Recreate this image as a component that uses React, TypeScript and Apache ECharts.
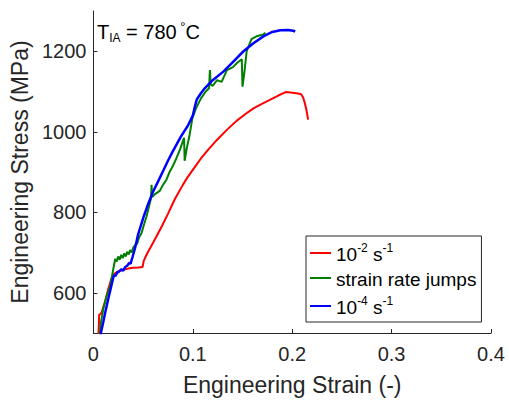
import React, { useEffect, useRef } from "react";
import * as echarts from "echarts";

const xTicks = [0, 0.1, 0.2, 0.3, 0.4];
const yTicks = [600, 800, 1000, 1200];

const seriesNames = ["10-2 s-1", "strain rate jumps", "10-4 s-1"];
const seriesColors = ["#ff0000", "#008000", "#0000ff"];

const redData = [
  [0.005, 495], [0.0055, 520], [0.0058, 545], [0.007, 547], [0.0085, 552], [0.01, 565],
  [0.012, 580], [0.015, 610], [0.0185, 638], [0.021, 647], [0.024, 652], [0.03, 657],
  [0.035, 660], [0.04, 662], [0.045, 663], [0.0495, 664], [0.0505, 678], [0.053, 692],
  [0.055, 702], [0.058, 715], [0.063, 738], [0.069, 766], [0.075, 796], [0.082, 833],
  [0.09, 868], [0.095, 888], [0.102, 912], [0.108, 933], [0.116, 957], [0.124, 979],
  [0.134, 1004], [0.144, 1027], [0.153, 1044], [0.161, 1058], [0.17, 1070], [0.178, 1080],
  [0.186, 1090], [0.194, 1099], [0.2, 1097], [0.206, 1095], [0.209, 1093], [0.211, 1085],
  [0.2126, 1072], [0.2145, 1052], [0.216, 1030],
];

const greenData = [
  [0.006, 490], [0.0075, 525], [0.01, 560], [0.013, 590], [0.0169, 617], [0.019, 645],
  [0.021, 672], [0.022, 684], [0.0235, 678], [0.025, 690], [0.0265, 682], [0.028, 694],
  [0.0295, 686], [0.031, 698], [0.0325, 690], [0.034, 702], [0.0355, 695], [0.037, 706],
  [0.0385, 700], [0.04, 712], [0.042, 718], [0.044, 722], [0.046, 738], [0.0484, 748],
  [0.051, 770], [0.0535, 790], [0.056, 815], [0.058, 835], [0.0585, 868], [0.0592, 838],
  [0.062, 845], [0.0667, 853], [0.07, 868], [0.0733, 880], [0.0766, 900], [0.08, 915],
  [0.0833, 933], [0.087, 955], [0.0912, 985], [0.0918, 928], [0.094, 960], [0.0965, 988],
  [0.0995, 1033], [0.1032, 1058], [0.1082, 1083], [0.113, 1100], [0.1164, 1108],
  [0.1172, 1153], [0.118, 1118], [0.12, 1114], [0.1244, 1128], [0.129, 1124], [0.1343, 1153],
  [0.14, 1160], [0.145, 1172], [0.1493, 1180], [0.15, 1112], [0.152, 1150], [0.1542, 1200],
  [0.159, 1230], [0.165, 1238], [0.1711, 1242], [0.173, 1246],
];

const blueData = [
  [0.0065, 480], [0.0077, 502], [0.01, 528], [0.012, 552], [0.015, 585], [0.0185, 622],
  [0.02, 638], [0.021, 644], [0.022, 641], [0.024, 650], [0.026, 653], [0.028, 658],
  [0.03, 655], [0.032, 664], [0.034, 667], [0.036, 674], [0.0375, 672], [0.0385, 682],
  [0.0395, 690], [0.042, 712], [0.045, 745], [0.05, 785], [0.055, 820], [0.06, 851],
  [0.065, 876], [0.07, 902], [0.075, 928], [0.08, 952], [0.088, 988], [0.095, 1015],
  [0.1, 1040], [0.102, 1062], [0.104, 1080], [0.108, 1095], [0.112, 1108], [0.12, 1128],
  [0.131, 1150], [0.141, 1175], [0.151, 1200], [0.161, 1220], [0.171, 1237], [0.18, 1248],
  [0.188, 1252], [0.196, 1253], [0.201, 1251], [0.203, 1249],
];

const FONT = "'Liberation Sans', Arial, Helvetica, sans-serif";
const AX = "#262626";

export default function App() {
  const ref = useRef<HTMLDivElement>(null);
  useEffect(() => {
    if (!ref.current) return;
    const chart = echarts.init(ref.current, null, { renderer: "svg" });
    const datas = [redData, greenData, blueData];
    const legendText: Record<string, string> = {
      "10-2 s-1": "{b|10}{sup|-2}{b| s}{sup|-1}",
      "strain rate jumps": "{b|strain rate jumps}",
      "10-4 s-1": "{b|10}{sup|-4}{b| s}{sup|-1}",
    };
    chart.setOption({
      animation: false,
      backgroundColor: "#ffffff",
      grid: { left: 88, right: 18, top: 11, bottom: 72, containLabel: false },
      xAxis: {
        type: "value",
        min: 0,
        max: 0.4,
        interval: 0.1,
        name: "Engineering Strain (-)",
        nameLocation: "middle",
        nameGap: 40,
        nameTextStyle: { fontFamily: FONT, fontSize: 23, color: AX },
        axisLine: { show: true, lineStyle: { color: AX, width: 1 } },
        axisTick: { show: true, inside: true, length: 4, customValues: xTicks, lineStyle: { color: AX } },
        axisLabel: {
          customValues: xTicks,
          formatter: (v: number) => String(Math.round(v * 10) / 10),
          fontFamily: FONT, fontSize: 20, color: AX, margin: 11,
        },
        splitLine: { show: false },
      },
      yAxis: {
        type: "value",
        min: 500,
        max: 1300,
        name: "Engineering Stress (MPa)",
        nameLocation: "middle",
        nameGap: 60,
        nameTextStyle: { fontFamily: FONT, fontSize: 23, color: AX },
        axisLine: { show: true, lineStyle: { color: AX, width: 1 } },
        axisTick: { show: true, inside: true, length: 4, customValues: yTicks, lineStyle: { color: AX } },
        axisLabel: {
          customValues: yTicks,
          formatter: (v: number) => String(v),
          fontFamily: FONT, fontSize: 20, color: AX, margin: 7,
        },
        splitLine: { show: false },
      },
      legend: {
        orient: "vertical",
        left: 306,
        top: 236,
        data: seriesNames,
        icon: "rect",
        itemWidth: 21,
        itemHeight: 2,
        itemGap: 6,
        padding: [6, 5, 5, 4],
        borderColor: AX,
        borderWidth: 1,
        backgroundColor: "#ffffff",
        formatter: (name: string) => legendText[name] || name,
        textStyle: {
          fontFamily: FONT,
          fontSize: 19,
          color: "#000",
          rich: {
            b: { fontFamily: FONT, fontSize: 19, lineHeight: 22, verticalAlign: "bottom", color: "#000" },
            sup: { fontFamily: FONT, fontSize: 12, lineHeight: 12, verticalAlign: "top", color: "#000" },
          },
        },
      },
      graphic: [
        {
          type: "text",
          left: 97,
          top: 20,
          style: {
            text: "{b|T}{sub|IA}{b| = 780}{sup| °}{b|C}",
            font: `20px ${FONT}`,
            fill: "#000",
            rich: {
              b: { fontFamily: FONT, fontSize: 20, lineHeight: 24, verticalAlign: "middle", fill: "#000" },
              sub: { fontFamily: FONT, fontSize: 12, lineHeight: 16, verticalAlign: "bottom", fill: "#000" },
              sup: { fontFamily: FONT, fontSize: 13, lineHeight: 12, verticalAlign: "top", fill: "#000" },
            },
          },
        },
      ],
      series: seriesNames.map((n, i) => ({
        name: n,
        type: "line",
        data: datas[i],
        symbol: "none",
        showSymbol: false,
        color: seriesColors[i],
        lineStyle: { color: seriesColors[i], width: i === 2 ? 2.5 : 2 },
        z: i === 2 ? 3 : 2,
      })),
    });
    return () => chart.dispose();
  }, []);
  return <div ref={ref} style={{ position: "fixed", left: 0, top: 0, width: 509, height: 405 }} />;
}
